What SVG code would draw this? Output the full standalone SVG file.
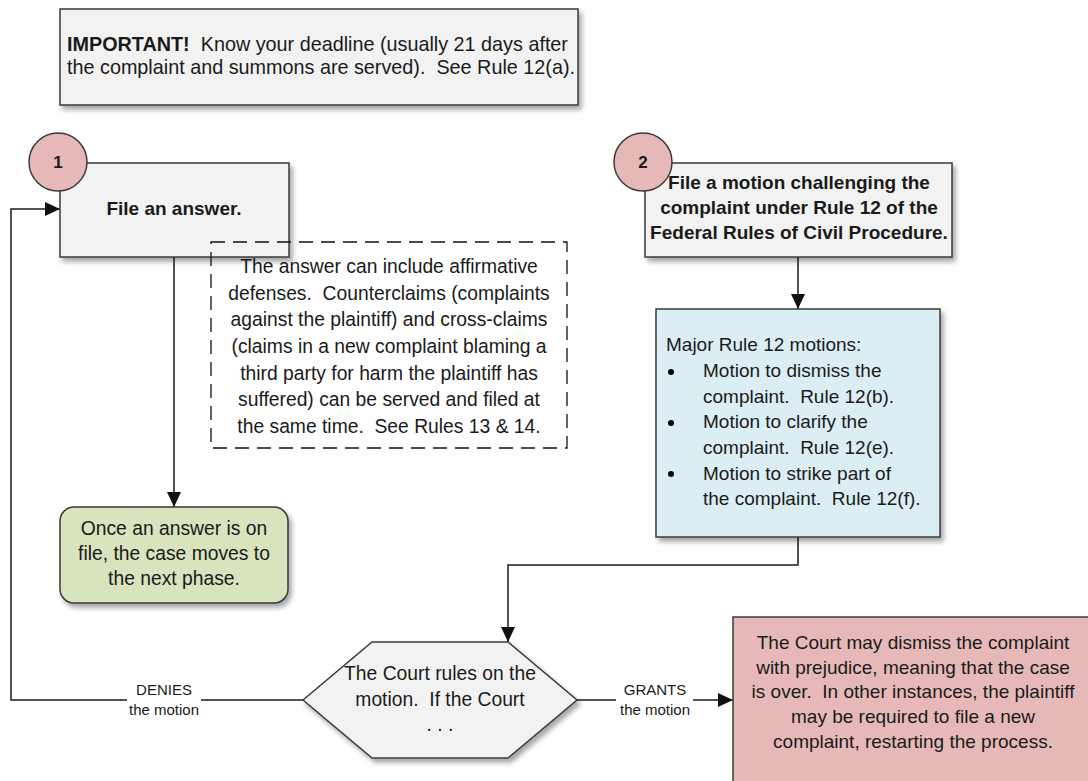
<svg xmlns="http://www.w3.org/2000/svg" width="1088" height="781" viewBox="0 0 1088 781">
<style>
text{font-family:"Liberation Sans",Arial,sans-serif;font-size:19.3px;fill:#1a1a1a;white-space:pre}
.b{font-weight:bold}
.c{text-anchor:middle}
.lbl{font-size:15px;text-anchor:middle}
.box{stroke:#3a3a3a;stroke-width:1.5}
.grey{fill:#f2f2f2}
.conn{fill:none;stroke:#1a1a1a;stroke-width:1.5}
</style>
<defs>
<filter id="sh" x="-10%" y="-10%" width="125%" height="130%">
<feDropShadow dx="3" dy="4" stdDeviation="2.5" flood-color="#000" flood-opacity="0.35"/>
</filter>
<marker id="arr" markerUnits="userSpaceOnUse" markerWidth="16" markerHeight="14" refX="15" refY="7" orient="auto">
<path d="M0,0 L15,7 L0,14 Z" fill="#111"/>
</marker>
</defs>

<g id="important">
<rect class="box grey" x="60" y="9" width="518" height="96" filter="url(#sh)"/>
<text x="67" y="51" style="font-size:19.8px"><tspan class="b">IMPORTANT!</tspan>  Know your deadline (usually 21 days after</text>
<text x="67" y="74" style="font-size:19.8px">the complaint and summons are served).  See Rule 12(a).</text>
</g>

<g id="connectors">
<path class="conn" d="M174,257 V507" marker-end="url(#arr)"/>
<path class="conn" d="M798,257 V309" marker-end="url(#arr)"/>
<path class="conn" d="M798,537 V565 H508 V642" marker-end="url(#arr)"/>
<path class="conn" d="M303,700 H201"/>
<path class="conn" d="M127,700 H11 V209 H60" marker-end="url(#arr)"/>
<path class="conn" d="M577,700 H616"/>
<path class="conn" d="M693,700 H733" marker-end="url(#arr)"/>
</g>

<g id="label-denies">
<text class="lbl" x="164" y="695">DENIES</text>
<text class="lbl" x="164" y="715">the motion</text>
</g>
<g id="label-grants">
<text class="lbl" x="655" y="695">GRANTS</text>
<text class="lbl" x="655" y="715">the motion</text>
</g>

<g id="step1">
<rect class="box grey" x="60" y="163" width="229" height="94" filter="url(#sh)"/>
<text class="b c" x="174" y="215" style="font-size:19px">File an answer.</text>
</g>
<g id="badge1">
<circle cx="58" cy="162" r="29" fill="#e6b9b8" stroke="#3a3a3a" stroke-width="1.5"/>
<text class="b c" x="58" y="168" style="font-size:17px">1</text>
</g>

<g id="step2">
<rect class="box grey" x="645" y="163" width="307" height="94" filter="url(#sh)"/>
<text class="b c" x="799" y="189" style="font-size:19px">File a motion challenging the</text>
<text class="b c" x="799" y="214" style="font-size:19px">complaint under Rule 12 of the</text>
<text class="b c" x="799" y="239" style="font-size:19px">Federal Rules of Civil Procedure.</text>
</g>
<g id="badge2">
<circle cx="643" cy="162" r="29" fill="#e6b9b8" stroke="#3a3a3a" stroke-width="1.5"/>
<text class="b c" x="643" y="168" style="font-size:17px">2</text>
</g>

<g id="note">
<rect x="211" y="242" width="356" height="206" fill="none" stroke="#111" stroke-width="1.3" stroke-dasharray="14,8"/>
<text class="c" x="389" y="273">The answer can include affirmative</text>
<text class="c" x="389" y="300">defenses.  Counterclaims (complaints</text>
<text class="c" x="389" y="326">against the plaintiff) and cross-claims</text>
<text class="c" x="389" y="353">(claims in a new complaint blaming a</text>
<text class="c" x="389" y="380">third party for harm the plaintiff has</text>
<text class="c" x="389" y="406">suffered) can be served and filed at</text>
<text class="c" x="389" y="433">the same time.  See Rules 13 &amp; 14.</text>
</g>

<g id="next-phase">
<rect class="box" x="60" y="507" width="228" height="96" rx="14" fill="#d7e4bd" filter="url(#sh)"/>
<text class="c" x="174" y="535">Once an answer is on</text>
<text class="c" x="174" y="560">file, the case moves to</text>
<text class="c" x="174" y="585">the next phase.</text>
</g>

<g id="motions">
<rect class="box" x="656" y="309" width="284" height="228" fill="#dbeef3" filter="url(#sh)"/>
<text x="666" y="351" style="font-size:19px">Major Rule 12 motions:</text>
<circle cx="671" cy="372" r="3"/>
<text x="703" y="377" style="font-size:19px">Motion to dismiss the</text>
<text x="703" y="403" style="font-size:19px">complaint.  Rule 12(b).</text>
<circle cx="671" cy="423" r="3"/>
<text x="703" y="428" style="font-size:19px">Motion to clarify the</text>
<text x="703" y="454" style="font-size:19px">complaint.  Rule 12(e).</text>
<circle cx="671" cy="474" r="3"/>
<text x="703" y="480" style="font-size:19px">Motion to strike part of</text>
<text x="703" y="505" style="font-size:19px">the complaint.  Rule 12(f).</text>
</g>

<g id="decision">
<polygon class="box grey" points="303,700 372,642 508,642 577,700 508,758 372,758" filter="url(#sh)"/>
<text class="c" x="440" y="680">The Court rules on the</text>
<text class="c" x="440" y="706">motion.  If the Court</text>
<text class="c" x="440" y="731">. . .</text>
</g>

<g id="outcome">
<rect class="box" x="733" y="617" width="370" height="180" fill="#e6b9b8"/>
<text class="c" x="913" y="649" style="font-size:19px">The Court may dismiss the complaint</text>
<text class="c" x="913" y="674" style="font-size:19px">with prejudice, meaning that the case</text>
<text class="c" x="913" y="698" style="font-size:19px">is over.  In other instances, the plaintiff</text>
<text class="c" x="913" y="723" style="font-size:19px">may be required to file a new</text>
<text class="c" x="913" y="748" style="font-size:19px">complaint, restarting the process.</text>
</g>
</svg>
